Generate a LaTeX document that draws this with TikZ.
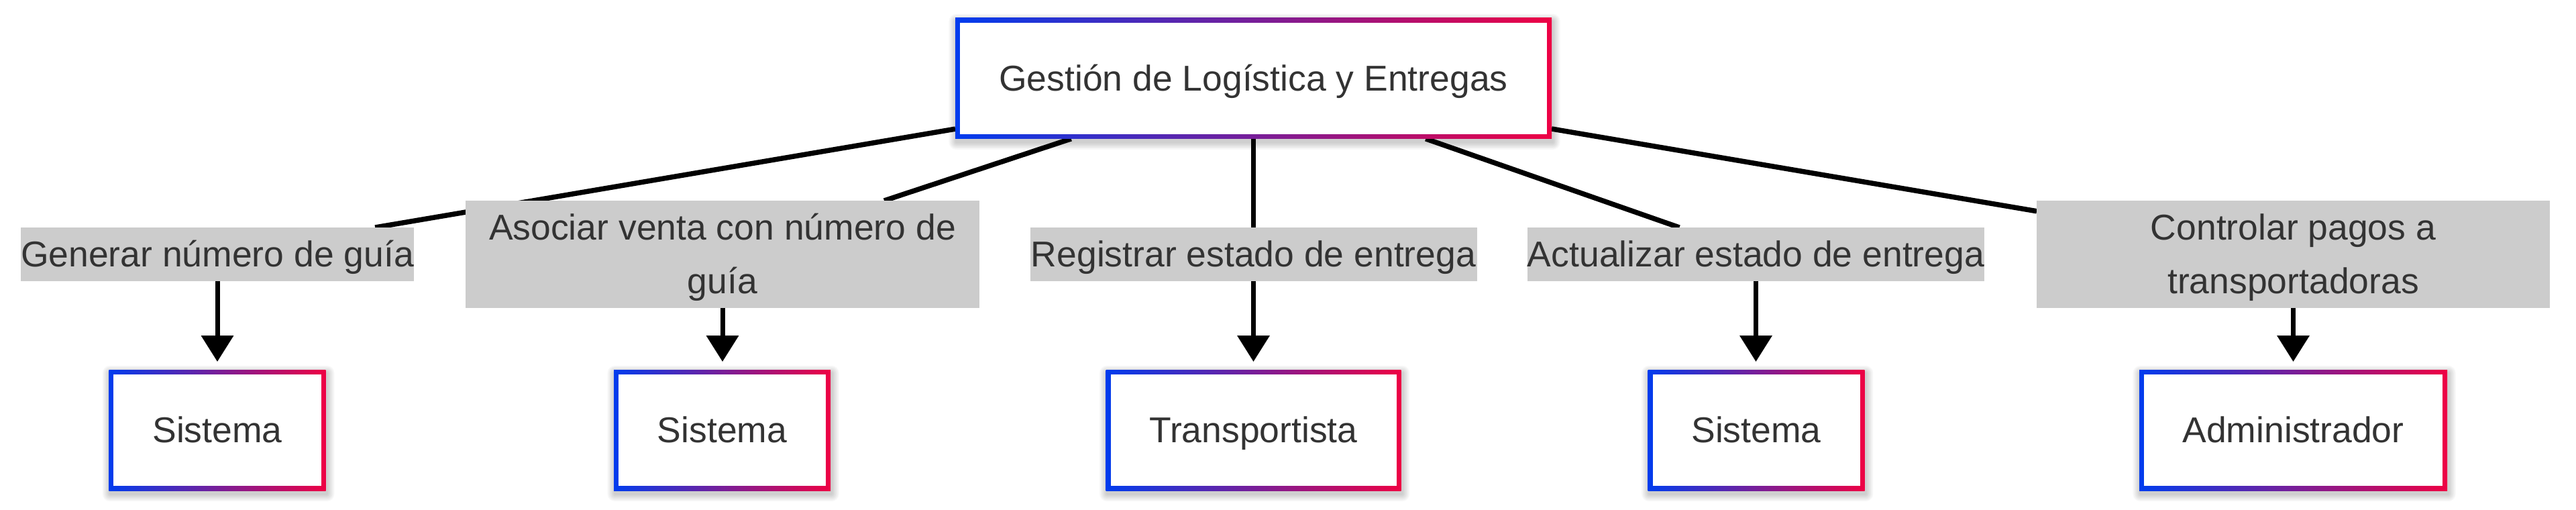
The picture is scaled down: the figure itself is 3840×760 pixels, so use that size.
\documentclass[tikz,border=0pt]{standalone}
\usepackage{fontspec}
\setmainfont{Liberation Sans}
\usetikzlibrary{arrows.meta,backgrounds}
\definecolor{gblue}{RGB}{0,60,238}
\definecolor{gred}{RGB}{238,0,68}
\definecolor{txt}{RGB}{51,51,51}
\definecolor{lblgray}{RGB}{204,204,204}
\newcommand\lstrut{\rule[-0.212em]{0pt}{1.117em}}
\newcommand\softshadow[1]{%
  \foreach \g in {0.8,1.6,2.4,3.2,4.0,4.8,5.6}{%
    \fill[black, fill opacity=0.028, rounded corners=\g*1pt]
      ([shift={({0.8pt-\g*1pt},{-2.5pt-\g*1pt})}]#1.south west) rectangle
      ([shift={({0.8pt+\g*1pt},{-2.5pt+\g*1pt})}]#1.north east);}}
\begin{document}
\begin{tikzpicture}[x=0.5pt,y=-0.5pt,
  every node/.style={font=\fontsize{26.75pt}{40pt}\selectfont, text=txt, inner sep=0pt, outer sep=0pt, align=center},
  actor/.style={rectangle, minimum height=90pt, fill=white,
    path picture={
      \shade[left color=gblue, right color=gred]
        (path picture bounding box.south west) rectangle (path picture bounding box.north east);
      \fill[white]
        ([shift={(3.5pt,3.5pt)}]path picture bounding box.south west) rectangle
        ([shift={(-3.5pt,-3.5pt)}]path picture bounding box.north east);
    }},
  lbl/.style={rectangle, fill=lblgray, minimum height=40pt},
  lbltwo/.style={lbl, minimum height=80pt},
  link/.style={draw=black, line width=3.75pt},
  arr/.style={draw=black, line width=3.5pt, -{Triangle[width=23.5pt,length=19.5pt]}, shorten >=6pt}
]
\useasboundingbox (0,0) rectangle (3840,760);
\begin{scope}[on background layer]
  \fill[white] (0,0) rectangle (3840,760);
\end{scope}

% root
\node[actor, minimum width=444.5pt] (rootbox) at (1868.5,116.8) {\lstrut Gestión de Logística y Entregas};

% edge labels
\node[lbl, minimum width=292pt] (l1) at (324,379) {\lstrut Generar número de guía};
\node[lbltwo, minimum width=383pt] (l2) at (1077,379) {\lstrut Asociar venta con número de\\\lstrut guía};
\node[lbl, minimum width=333pt] (l3) at (1868.5,379) {\lstrut Registrar estado de entrega};
\node[lbl, minimum width=340.5pt] (l4) at (2617.5,379) {\lstrut Actualizar estado de entrega};
\node[lbltwo, minimum width=382.5pt] (l5) at (3418.5,379) {\lstrut Controlar pagos a\\\lstrut transportadoras};

% targets
\node[actor, minimum width=161.7pt] (s1) at (324,641) {\lstrut Sistema};
\node[actor, minimum width=161.5pt] (s2) at (1076.5,641) {\lstrut Sistema};
\node[actor, minimum width=220pt] (tr) at (1868.5,641) {\lstrut Transportista};
\node[actor, minimum width=161.5pt] (s4) at (2618,641) {\lstrut Sistema};
\node[actor, minimum width=229.5pt] (adm) at (3418.5,641) {\lstrut Administrador};

\begin{scope}[on background layer]
  % soft shadows under the boxes
  \softshadow{rootbox}
  \softshadow{s1}
  \softshadow{s2}
  \softshadow{tr}
  \softshadow{s4}
  \softshadow{adm}
  % connectors root -> labels (behind labels)
  \draw[link] (rootbox) -- (l1);
  \draw[link] (rootbox) -- (l2);
  \draw[link] (rootbox) -- (l3);
  \draw[link] (rootbox) -- (l4);
  \draw[link] (rootbox) -- (l5);
\end{scope}

% labels -> targets
\draw[arr] (l1.south) -- (l1.south |- s1.north);
\draw[arr] (l2.south) -- (l2.south |- s2.north);
\draw[arr] (l3.south) -- (l3.south |- tr.north);
\draw[arr] (l4.south) -- (l4.south |- s4.north);
\draw[arr] (l5.south) -- (l5.south |- adm.north);
\end{tikzpicture}
\end{document}
